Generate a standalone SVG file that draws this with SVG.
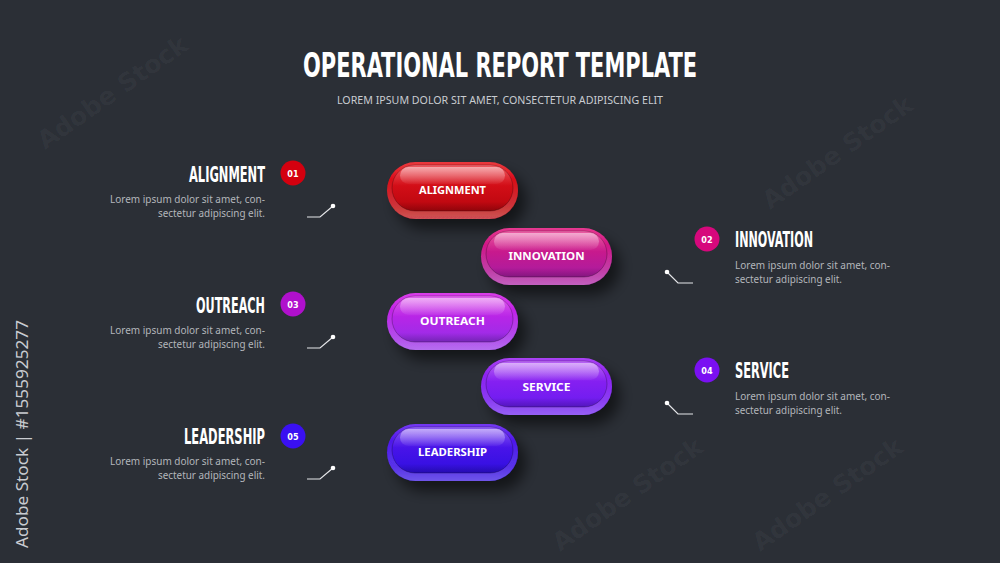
<svg xmlns="http://www.w3.org/2000/svg" width="1000" height="563" viewBox="0 0 1000 563">
<defs>
<style>
.wm{font-family:"DejaVu Sans",sans-serif;font-weight:bold;font-size:25px;fill:#ffffff;fill-opacity:0.045}
.title{font-family:"DejaVu Sans Condensed","DejaVu Sans",sans-serif;font-weight:bold;font-size:34px;fill:#ffffff}
.sub{font-family:"Noto Sans","Open Sans",sans-serif;font-size:10px;fill:#c9ccd1}
.hd{font-family:"DejaVu Sans Condensed","DejaVu Sans",sans-serif;font-weight:bold;font-size:20.5px;fill:#ffffff}
.ds{font-family:"Noto Sans","Open Sans",sans-serif;font-size:10.2px;fill:#b3b6bb}
.num{font-family:"DejaVu Sans Condensed","DejaVu Sans",sans-serif;font-weight:bold;font-size:9px;fill:#ffffff;text-anchor:middle}
.pt{font-family:"Noto Sans","Open Sans",sans-serif;font-weight:bold;font-size:10.5px;fill:#ffffff;text-anchor:middle}
.ln{fill:none;stroke:#e6e7ea;stroke-width:1.2}
.dot{fill:#ffffff}
.vt{font-family:"Noto Sans","DejaVu Sans",sans-serif;font-size:16px;fill:#c9ccd1}
</style>
<filter id="sh" x="-30%" y="-40%" width="170%" height="200%">
<feDropShadow dx="8" dy="10" stdDeviation="7" flood-color="#000000" flood-opacity="0.55"/>
</filter>
<linearGradient id="rimHi" x1="0" y1="0" x2="0" y2="1">
<stop offset="0" stop-color="#ffffff" stop-opacity="0.15"/>
<stop offset="0.3" stop-color="#ffffff" stop-opacity="0"/>
<stop offset="0.75" stop-color="#ffffff" stop-opacity="0.15"/>
<stop offset="1" stop-color="#ffffff" stop-opacity="0.3"/>
</linearGradient>
<linearGradient id="face" x1="0" y1="0" x2="0" y2="1">
<stop offset="0" stop-color="#ffffff" stop-opacity="0.3"/>
<stop offset="0.45" stop-color="#ffffff" stop-opacity="0"/>
<stop offset="0.8" stop-color="#000000" stop-opacity="0"/>
<stop offset="1" stop-color="#000000" stop-opacity="0.22"/>
</linearGradient>
<linearGradient id="gloss" x1="0" y1="0" x2="0" y2="1">
<stop offset="0" stop-color="#ffffff" stop-opacity="0.5"/>
<stop offset="1" stop-color="#ffffff" stop-opacity="0.04"/>
</linearGradient>
<linearGradient id="g1" x1="0" y1="0" x2="0" y2="1"><stop offset="0" stop-color="#e8141e"/><stop offset="1" stop-color="#b8060e"/></linearGradient>
<linearGradient id="g2" x1="0" y1="0" x2="0" y2="1"><stop offset="0" stop-color="#e2177c"/><stop offset="1" stop-color="#a81ca2"/></linearGradient>
<linearGradient id="g3" x1="0" y1="0" x2="0" y2="1"><stop offset="0" stop-color="#d41ee6"/><stop offset="1" stop-color="#962ee8"/></linearGradient>
<linearGradient id="g4" x1="0" y1="0" x2="0" y2="1"><stop offset="0" stop-color="#9b22f2"/><stop offset="1" stop-color="#6a1cf0"/></linearGradient>
<linearGradient id="g5" x1="0" y1="0" x2="0" y2="1"><stop offset="0" stop-color="#5c17f0"/><stop offset="1" stop-color="#300fe0"/></linearGradient>
</defs>

<rect width="1000" height="563" fill="#2b2f36"/>

<g id="watermarks">
<text class="wm" transform="translate(45,150) rotate(-35)">Adobe Stock</text>
<text class="wm" transform="translate(770,210) rotate(-35)">Adobe Stock</text>
<text class="wm" transform="translate(560,552) rotate(-35)">Adobe Stock</text>
<text class="wm" transform="translate(760,552) rotate(-35)">Adobe Stock</text>
</g>

<g id="header">
<text class="title" transform="translate(303,77) scale(0.7,1)" textLength="563" lengthAdjust="spacingAndGlyphs">OPERATIONAL REPORT TEMPLATE</text>
<text class="sub" x="337" y="104" textLength="326" lengthAdjust="spacingAndGlyphs">LOREM IPSUM DOLOR SIT AMET, CONSECTETUR ADIPISCING ELIT</text>
</g>

<g id="connectors">
<polyline class="ln" points="307,217 320,217 333,206"/><circle class="dot" cx="333" cy="206" r="2.3"/>
<polyline class="ln" points="693,283 678,283 667,272"/><circle class="dot" cx="667" cy="272" r="2.3"/>
<polyline class="ln" points="307,348 320,348 333,337"/><circle class="dot" cx="333" cy="337" r="2.3"/>
<polyline class="ln" points="693,414 678,414 667,403"/><circle class="dot" cx="667" cy="403" r="2.3"/>
<polyline class="ln" points="307,479 320,479 333,468"/><circle class="dot" cx="333" cy="468" r="2.3"/>
</g>

<g id="item1">
<text class="hd" transform="translate(189,182) scale(0.62,1)" textLength="122.6" lengthAdjust="spacingAndGlyphs">ALIGNMENT</text>
<circle cx="293" cy="173" r="12.5" fill="#d4000f"/><text class="num" x="293" y="176.5">01</text>
<text class="ds" x="110" y="203" textLength="155" lengthAdjust="spacingAndGlyphs">Lorem ipsum dolor sit amet, con-</text>
<text class="ds" x="158" y="217" textLength="107" lengthAdjust="spacingAndGlyphs">sectetur adipiscing elit.</text>
</g>
<g id="item2">
<text class="hd" transform="translate(735,247) scale(0.62,1)" textLength="125.8" lengthAdjust="spacingAndGlyphs">INNOVATION</text>
<circle cx="707" cy="239" r="12.5" fill="#d6087c"/><text class="num" x="707" y="242.5">02</text>
<text class="ds" x="735" y="269" textLength="155" lengthAdjust="spacingAndGlyphs">Lorem ipsum dolor sit amet, con-</text>
<text class="ds" x="735" y="283" textLength="107" lengthAdjust="spacingAndGlyphs">sectetur adipiscing elit.</text>
</g>
<g id="item3">
<text class="hd" transform="translate(196,313) scale(0.62,1)" textLength="111.3" lengthAdjust="spacingAndGlyphs">OUTREACH</text>
<circle cx="293" cy="304" r="12.5" fill="#b010cc"/><text class="num" x="293" y="307.5">03</text>
<text class="ds" x="110" y="334" textLength="155" lengthAdjust="spacingAndGlyphs">Lorem ipsum dolor sit amet, con-</text>
<text class="ds" x="158" y="348" textLength="107" lengthAdjust="spacingAndGlyphs">sectetur adipiscing elit.</text>
</g>
<g id="item4">
<text class="hd" transform="translate(735,378) scale(0.62,1)" textLength="87.1" lengthAdjust="spacingAndGlyphs">SERVICE</text>
<circle cx="707" cy="370" r="12.5" fill="#7a10f2"/><text class="num" x="707" y="373.5">04</text>
<text class="ds" x="735" y="400" textLength="155" lengthAdjust="spacingAndGlyphs">Lorem ipsum dolor sit amet, con-</text>
<text class="ds" x="735" y="414" textLength="107" lengthAdjust="spacingAndGlyphs">sectetur adipiscing elit.</text>
</g>
<g id="item5">
<text class="hd" transform="translate(184,444) scale(0.62,1)" textLength="130.6" lengthAdjust="spacingAndGlyphs">LEADERSHIP</text>
<circle cx="293" cy="436" r="12.5" fill="#3a10f2"/><text class="num" x="293" y="439.5">05</text>
<text class="ds" x="110" y="465" textLength="155" lengthAdjust="spacingAndGlyphs">Lorem ipsum dolor sit amet, con-</text>
<text class="ds" x="158" y="479" textLength="107" lengthAdjust="spacingAndGlyphs">sectetur adipiscing elit.</text>
</g>

<g id="pill1" transform="translate(387,162)">
<rect width="131" height="57" rx="28.5" fill="url(#g1)" filter="url(#sh)"/>
<rect width="131" height="57" rx="28.5" fill="url(#rimHi)"/>
<rect x="5" y="3" width="121" height="46" rx="23" fill="url(#g1)" stroke="#000" stroke-opacity="0.25"/>
<rect x="5" y="3" width="121" height="46" rx="23" fill="url(#face)"/>
<rect x="13" y="5" width="105" height="17" rx="8.5" fill="url(#gloss)"/>
<text class="pt" x="65.5" y="32" textLength="67" lengthAdjust="spacingAndGlyphs">ALIGNMENT</text>
</g>
<g id="pill2" transform="translate(481,228)">
<rect width="131" height="57" rx="28.5" fill="url(#g2)" filter="url(#sh)"/>
<rect width="131" height="57" rx="28.5" fill="url(#rimHi)"/>
<rect x="5" y="3" width="121" height="46" rx="23" fill="url(#g2)" stroke="#000" stroke-opacity="0.25"/>
<rect x="5" y="3" width="121" height="46" rx="23" fill="url(#face)"/>
<rect x="13" y="5" width="105" height="17" rx="8.5" fill="url(#gloss)"/>
<text class="pt" x="65.5" y="32" textLength="76" lengthAdjust="spacingAndGlyphs">INNOVATION</text>
</g>
<g id="pill3" transform="translate(387,293)">
<rect width="131" height="57" rx="28.5" fill="url(#g3)" filter="url(#sh)"/>
<rect width="131" height="57" rx="28.5" fill="url(#rimHi)"/>
<rect x="5" y="3" width="121" height="46" rx="23" fill="url(#g3)" stroke="#000" stroke-opacity="0.25"/>
<rect x="5" y="3" width="121" height="46" rx="23" fill="url(#face)"/>
<rect x="13" y="5" width="105" height="17" rx="8.5" fill="url(#gloss)"/>
<text class="pt" x="65.5" y="32" textLength="65" lengthAdjust="spacingAndGlyphs">OUTREACH</text>
</g>
<g id="pill4" transform="translate(481,358)">
<rect width="131" height="57" rx="28.5" fill="url(#g4)" filter="url(#sh)"/>
<rect width="131" height="57" rx="28.5" fill="url(#rimHi)"/>
<rect x="5" y="3" width="121" height="46" rx="23" fill="url(#g4)" stroke="#000" stroke-opacity="0.25"/>
<rect x="5" y="3" width="121" height="46" rx="23" fill="url(#face)"/>
<rect x="13" y="5" width="105" height="17" rx="8.5" fill="url(#gloss)"/>
<text class="pt" x="65.5" y="33" textLength="48" lengthAdjust="spacingAndGlyphs">SERVICE</text>
</g>
<g id="pill5" transform="translate(387,424)">
<rect width="131" height="57" rx="28.5" fill="url(#g5)" filter="url(#sh)"/>
<rect width="131" height="57" rx="28.5" fill="url(#rimHi)"/>
<rect x="5" y="3" width="121" height="46" rx="23" fill="url(#g5)" stroke="#000" stroke-opacity="0.25"/>
<rect x="5" y="3" width="121" height="46" rx="23" fill="url(#face)"/>
<rect x="13" y="5" width="105" height="17" rx="8.5" fill="url(#gloss)"/>
<text class="pt" x="65.5" y="32" textLength="69" lengthAdjust="spacingAndGlyphs">LEADERSHIP</text>
</g>

<text class="vt" transform="translate(28,548) rotate(-90)" textLength="228" lengthAdjust="spacingAndGlyphs">Adobe Stock | #1555925277</text>
</svg>
